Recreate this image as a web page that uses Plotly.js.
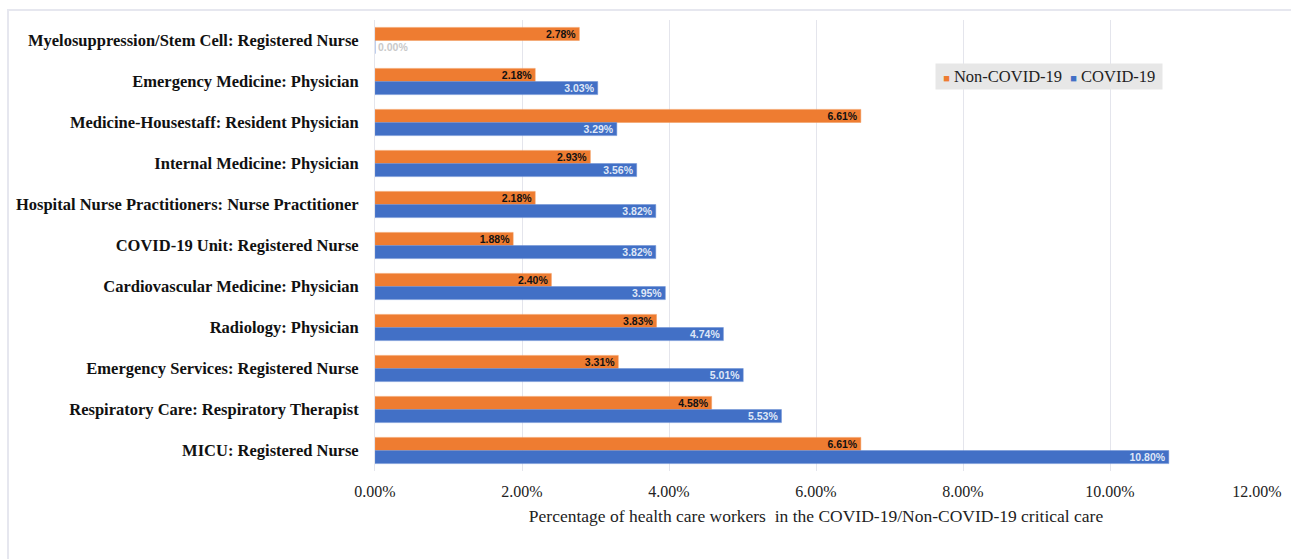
<!DOCTYPE html>
<html>
<head>
<meta charset="utf-8">
<script src="https://cdn.plot.ly/plotly-3.0.1.min.js"></script>
<style>
  html, body { margin: 0; padding: 0; background: #ffffff; }
  #wrap { position: relative; width: 1291px; height: 559px; overflow: hidden; }
  #frame { position: absolute; left: 7px; top: 9px; width: 1300px; height: 600px;
           border-top: 2px solid #e6e7ef; border-left: 2px solid #e6e7ef; }
  #chart { position: absolute; left: 0; top: 0; width: 1291px; height: 559px; }
</style>
</head>
<body>
<div id="wrap">
  <div id="frame"></div>
  <div id="chart"></div>
</div>
<script>
// Work units, listed top to bottom
const units = [
  "Myelosuppression/Stem Cell: Registered Nurse",
  "Emergency Medicine: Physician",
  "Medicine-Housestaff: Resident Physician",
  "Internal Medicine: Physician",
  "Hospital Nurse Practitioners: Nurse Practitioner",
  "COVID-19 Unit: Registered Nurse",
  "Cardiovascular Medicine: Physician",
  "Radiology: Physician",
  "Emergency Services: Registered Nurse",
  "Respiratory Care: Respiratory Therapist",
  "MICU: Registered Nurse"
];

// Share of health care workers (%)
const nonCovidPct = [2.78, 2.18, 6.61, 2.93, 2.18, 1.88, 2.40, 3.83, 3.31, 4.58, 6.61];
const covidPct    = [0.00, 3.03, 3.29, 3.56, 3.82, 3.82, 3.95, 4.74, 5.01, 5.53, 10.80];

const xTicks = [0, 2, 4, 6, 8, 10, 12];
const xTickLabels = ["0.00%", "2.00%", "4.00%", "6.00%", "8.00%", "10.00%", "12.00%"];

const seriesNames = ["Non-COVID-19", "COVID-19"];
const seriesColors = ["#ee7c31", "#4270c6"];

const labelFont = "Liberation Sans, Arial, sans-serif";
const serif = "Liberation Serif, Times New Roman, serif";

const nonCovid = {
  type: "bar",
  orientation: "h",
  name: seriesNames[0],
  y: units,
  x: nonCovidPct,
  marker: { color: seriesColors[0], line: { color: "#f39a5c", width: 0.5 } },
  texttemplate: "<b>%{x:.2f}%</b>",
  textposition: "inside",
  insidetextanchor: "end",
  constraintext: "none",
  textfont: { family: labelFont, size: 10.5, color: "#111111" },
  hoverinfo: "x+y"
};

const covid = {
  type: "bar",
  orientation: "h",
  name: seriesNames[1],
  y: units,
  x: covidPct,
  marker: { color: seriesColors[1], line: { color: "#6a8fd4", width: 0.5 } },
  texttemplate: "<b>%{x:.2f}%</b>",
  textposition: covidPct.map(v => v === 0 ? "outside" : "inside"),
  insidetextanchor: "end",
  constraintext: "none",
  textfont: {
    family: labelFont, size: 10.5,
    color: covidPct.map(v => v === 0 ? "#c9c9c9" : "#dfe7f7")
  },
  outsidetextfont: { family: labelFont, size: 10.5, color: "#c9c9c9" },
  cliponaxis: false,
  hoverinfo: "x+y"
};

// Compact legend: coloured square keys followed by the series names
const legendText = "&nbsp;" + seriesNames
  .map((n, i) => `<span style="color:${seriesColors[i]};font-size:11px">■</span> ${n}`)
  .join("&nbsp;&nbsp;") + "&nbsp;";

const layout = {
  width: 1291,
  height: 559,
  paper_bgcolor: "rgba(0,0,0,0)",
  plot_bgcolor: "rgba(0,0,0,0)",
  margin: { l: 375, r: 34, t: 20, b: 88 },
  barmode: "group",
  bargap: 0.36,
  bargroupgap: 0,
  showlegend: false,
  annotations: [{
    xref: "paper", yref: "paper",
    x: 0.635, y: 0.874,
    xanchor: "left", yanchor: "middle",
    text: legendText,
    showarrow: false,
    align: "left",
    bgcolor: "#e7e7e7",
    borderpad: 3,
    font: { family: serif, size: 16.5, color: "#222222" }
  }],
  xaxis: {
    range: [0, 12],
    tickvals: xTicks,
    ticktext: xTickLabels,
    showgrid: true,
    gridcolor: "#e4e5ec",
    gridwidth: 1,
    zeroline: false,
    showline: false,
    ticks: "",
    ticklabelstandoff: 9,
    tickfont: { family: serif, size: 16, color: "#222222" },
    title: {
      text: "Percentage of health care workers  in the COVID-19/Non-COVID-19 critical care",
      font: { family: serif, size: 17.5, color: "#222222" },
      standoff: 10
    },
    fixedrange: true
  },
  yaxis: {
    type: "category",
    categoryorder: "array",
    categoryarray: units,
    autorange: "reversed",
    showgrid: false,
    zeroline: false,
    showline: true,
    linecolor: "#e4e5ec",
    linewidth: 1,
    ticks: "",
    ticklabelstandoff: 12,
    tickfont: { family: serif, size: 16.5, color: "#111111", weight: "bold" },
    fixedrange: true
  }
};

Plotly.newPlot("chart", [nonCovid, covid], layout, { displayModeBar: false, staticPlot: true });
</script>
</body>
</html>
